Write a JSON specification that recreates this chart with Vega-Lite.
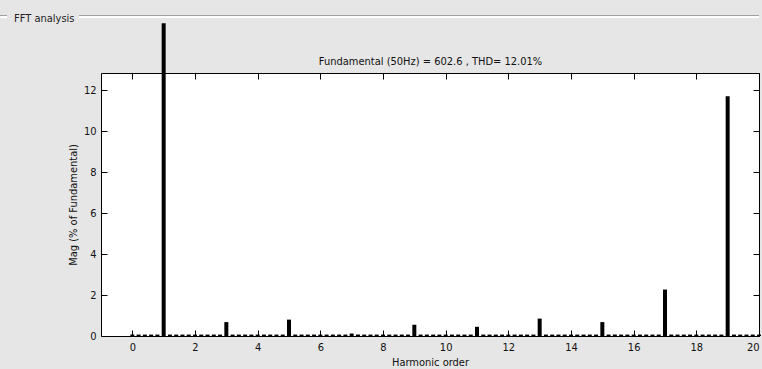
{
  "$schema": "https://vega.github.io/schema/vega-lite/v6.json",
  "width": 658,
  "height": 263,
  "autosize": {"type": "none"},
  "padding": {"left": 101, "top": 73, "right": 3, "bottom": 33},
  "background": "#e6e6e6",
  "view": {"fill": "white", "stroke": "black", "strokeWidth": 1},
  "config": {
    "font": "DejaVu Sans Condensed, Liberation Sans",
    "axis": {
      "domain": false,
      "grid": false,
      "tickSize": -6,
      "tickColor": "black",
      "tickWidth": 1,
      "labelFont": "DejaVu Sans Condensed, Liberation Sans",
      "labelFontSize": 11,
      "labelColor": "#111",
      "titleFont": "DejaVu Sans Condensed, Liberation Sans",
      "titleFontSize": 11,
      "titleFontWeight": "normal",
      "titleColor": "#111"
    }
  },
  "title": {
    "text": "FFT analysis",
    "anchor": "start",
    "frame": "group",
    "dx": -87,
    "dy": 12,
    "fontSize": 11,
    "fontWeight": "normal",
    "font": "DejaVu Sans Condensed, Liberation Sans",
    "color": "#222"
  },
  "data": {
    "values": [
      {"h": 0, "m": 0.07}, {"h": 0.2, "m": 0.07}, {"h": 0.4, "m": 0.07}, {"h": 0.6, "m": 0.07}, {"h": 0.8, "m": 0.07},
      {"h": 1, "m": 15.28}, {"h": 1.2, "m": 0.07}, {"h": 1.4, "m": 0.07}, {"h": 1.6, "m": 0.07}, {"h": 1.8, "m": 0.07},
      {"h": 2, "m": 0.07}, {"h": 2.2, "m": 0.07}, {"h": 2.4, "m": 0.07}, {"h": 2.6, "m": 0.07}, {"h": 2.8, "m": 0.07},
      {"h": 3, "m": 0.68}, {"h": 3.2, "m": 0.07}, {"h": 3.4, "m": 0.07}, {"h": 3.6, "m": 0.07}, {"h": 3.8, "m": 0.07},
      {"h": 4, "m": 0.07}, {"h": 4.2, "m": 0.07}, {"h": 4.4, "m": 0.07}, {"h": 4.6, "m": 0.07}, {"h": 4.8, "m": 0.07},
      {"h": 5, "m": 0.8}, {"h": 5.2, "m": 0.07}, {"h": 5.4, "m": 0.07}, {"h": 5.6, "m": 0.07}, {"h": 5.8, "m": 0.07},
      {"h": 6, "m": 0.07}, {"h": 6.2, "m": 0.07}, {"h": 6.4, "m": 0.07}, {"h": 6.6, "m": 0.07}, {"h": 6.8, "m": 0.07},
      {"h": 7, "m": 0.12}, {"h": 7.2, "m": 0.07}, {"h": 7.4, "m": 0.07}, {"h": 7.6, "m": 0.07}, {"h": 7.8, "m": 0.07},
      {"h": 8, "m": 0.07}, {"h": 8.2, "m": 0.07}, {"h": 8.4, "m": 0.07}, {"h": 8.6, "m": 0.07}, {"h": 8.8, "m": 0.07},
      {"h": 9, "m": 0.55}, {"h": 9.2, "m": 0.07}, {"h": 9.4, "m": 0.07}, {"h": 9.6, "m": 0.07}, {"h": 9.8, "m": 0.07},
      {"h": 10, "m": 0.07}, {"h": 10.2, "m": 0.07}, {"h": 10.4, "m": 0.07}, {"h": 10.6, "m": 0.07}, {"h": 10.8, "m": 0.07},
      {"h": 11, "m": 0.45}, {"h": 11.2, "m": 0.07}, {"h": 11.4, "m": 0.07}, {"h": 11.6, "m": 0.07}, {"h": 11.8, "m": 0.07},
      {"h": 12, "m": 0.07}, {"h": 12.2, "m": 0.07}, {"h": 12.4, "m": 0.07}, {"h": 12.6, "m": 0.07}, {"h": 12.8, "m": 0.07},
      {"h": 13, "m": 0.85}, {"h": 13.2, "m": 0.07}, {"h": 13.4, "m": 0.07}, {"h": 13.6, "m": 0.07}, {"h": 13.8, "m": 0.07},
      {"h": 14, "m": 0.07}, {"h": 14.2, "m": 0.07}, {"h": 14.4, "m": 0.07}, {"h": 14.6, "m": 0.07}, {"h": 14.8, "m": 0.07},
      {"h": 15, "m": 0.68}, {"h": 15.2, "m": 0.07}, {"h": 15.4, "m": 0.07}, {"h": 15.6, "m": 0.07}, {"h": 15.8, "m": 0.07},
      {"h": 16, "m": 0.07}, {"h": 16.2, "m": 0.07}, {"h": 16.4, "m": 0.07}, {"h": 16.6, "m": 0.07}, {"h": 16.8, "m": 0.07},
      {"h": 17, "m": 2.27}, {"h": 17.2, "m": 0.07}, {"h": 17.4, "m": 0.07}, {"h": 17.6, "m": 0.07}, {"h": 17.8, "m": 0.07},
      {"h": 18, "m": 0.07}, {"h": 18.2, "m": 0.07}, {"h": 18.4, "m": 0.07}, {"h": 18.6, "m": 0.07}, {"h": 18.8, "m": 0.07},
      {"h": 19, "m": 11.72}, {"h": 19.2, "m": 0.07}, {"h": 19.4, "m": 0.07}, {"h": 19.6, "m": 0.07}, {"h": 19.8, "m": 0.07},
      {"h": 20, "m": 0.07}
    ]
  },
  "layer": [
    {
      "mark": {"type": "bar", "size": 4, "color": "black"},
      "encoding": {
        "x": {
          "field": "h", "type": "quantitative",
          "scale": {"domain": [-1, 20], "nice": false, "zero": false, "padding": 0},
          "axis": {"orient": "bottom", "title": "Harmonic order", "values": [0, 2, 4, 6, 8, 10, 12, 14, 16, 18, 20], "labelPadding": 11, "titlePadding": 4}
        },
        "y": {
          "field": "m", "type": "quantitative",
          "scale": {"domain": [0, 12.85], "nice": false, "padding": 0},
          "axis": {"orient": "left", "title": "Mag (% of Fundamental)", "values": [0, 2, 4, 6, 8, 10, 12], "labelPadding": 11, "titlePadding": 5}
        }
      }
    },
    {
      "mark": {"type": "bar", "size": 4, "opacity": 0},
      "encoding": {
        "x": {
          "field": "h", "type": "quantitative",
          "axis": {"orient": "top", "title": "Fundamental (50Hz) = 602.6 , THD= 12.01%", "labels": false, "values": [0, 2, 4, 6, 8, 10, 12, 14, 16, 18, 20], "titlePadding": 6}
        },
        "y": {
          "field": "m", "type": "quantitative",
          "axis": {"orient": "right", "title": null, "labels": false, "values": [0, 2, 4, 6, 8, 10, 12]}
        }
      }
    },
    {
      "mark": {"type": "rule", "color": "#a0a0a0", "strokeWidth": 1},
      "encoding": {"x": {"datum": -1.7, "axis": null}, "x2": {"datum": 20}, "y": {"datum": 15.62, "axis": null}}
    },
    {
      "mark": {"type": "rule", "color": "#ffffff", "strokeWidth": 1, "yOffset": 1},
      "encoding": {"x": {"datum": -1.7, "axis": null}, "x2": {"datum": 20}, "y": {"datum": 15.62, "axis": null}}
    },
    {
      "mark": {"type": "rule", "color": "#a0a0a0", "strokeWidth": 1},
      "encoding": {"x": {"datum": -4.2, "axis": null}, "x2": {"datum": -4.0}, "y": {"datum": 15.62, "axis": null}}
    },
    {
      "mark": {"type": "rule", "color": "#ffffff", "strokeWidth": 1, "yOffset": 1},
      "encoding": {"x": {"datum": -4.2, "axis": null}, "x2": {"datum": -4.0}, "y": {"datum": 15.62, "axis": null}}
    }
  ]
}
